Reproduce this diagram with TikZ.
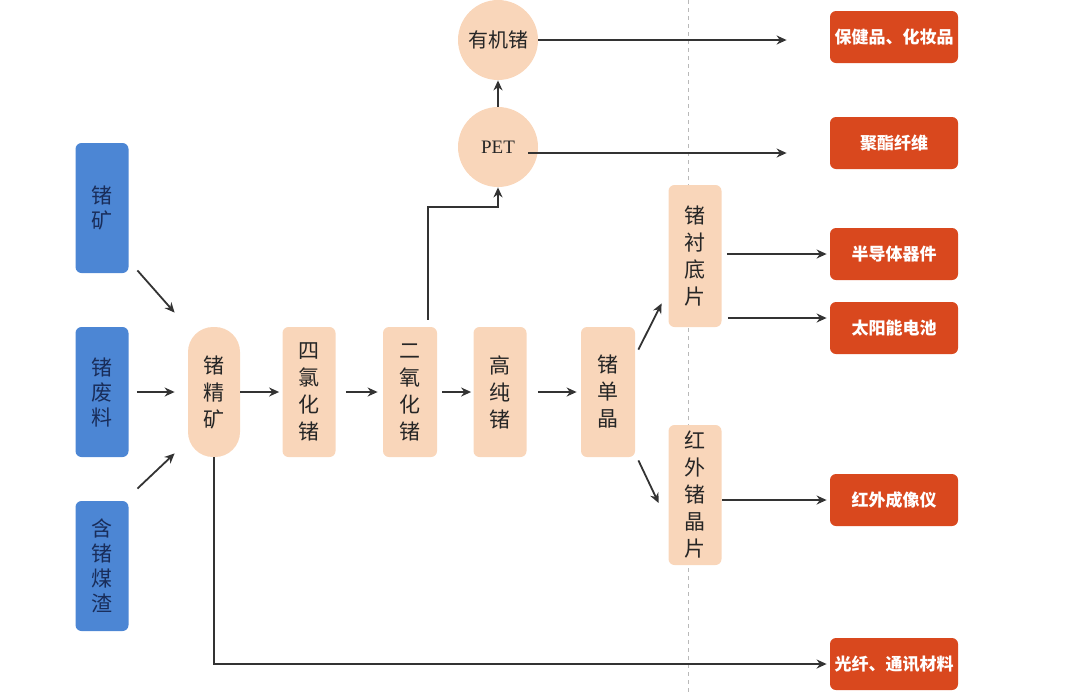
\documentclass[tikz,border=0pt]{standalone}
\usepackage{fontspec}
\usepackage{tikz}
\usetikzlibrary{arrows.meta,positioning}
\setmainfont{Noto Sans CJK SC}
\newfontfamily\petfont{Liberation Serif}
\definecolor{oreblue}{RGB}{76,134,212}
\definecolor{oretext}{RGB}{25,45,90}
\definecolor{peach}{RGB}{249,214,186}
\definecolor{userred}{RGB}{217,72,30}
\definecolor{guide}{RGB}{185,185,185}

\tikzset{
  src/.style={fill=oreblue, rounded corners=3pt, minimum width=26.5pt, minimum height=65pt,
    inner sep=0pt, align=center, text=oretext, font=\fontsize{10.5}{12.5}\selectfont},
  proc/.style={fill=peach, rounded corners=3pt, minimum width=26.5pt, minimum height=65pt,
    inner sep=0pt, align=center, text=black!85, font=\fontsize{10.5}{13.5}\selectfont},
  ball/.style={circle, fill=peach, minimum size=40pt, inner sep=0pt, text=black!85,
    font=\fontsize{10}{12}\selectfont},
  usage/.style={fill=userred, rounded corners=3pt, minimum width=64pt, minimum height=26pt,
    inner sep=0pt, text=white, font=\fontsize{8.5}{10}\selectfont\bfseries},
  arr/.style={-{Stealth[length=5pt,width=4.5pt]}, line width=0.9pt, black!80}
}

\begin{document}
\begin{tikzpicture}[x=0.5pt, y=-0.5pt]
\useasboundingbox (0,0) rectangle (1080,692);

% Guide line
\draw[guide, line width=0.5pt, dash pattern=on 2pt off 2pt] (688,0) -- (688,692);

% Raw material
\node[src] (kuang)   at (102,208) {锗\\矿};
\node[src] (feiliao) at (102,392) {锗\\废\\料};
\node[src] (meizha)  at (102,566) {含\\锗\\煤\\渣};

% Processing chain
\node[proc, rounded corners=12.5pt, minimum width=26pt] (jing) at (214,392) {锗\\精\\矿};
\node[proc] (sicl)    at (309,392) {四\\氯\\化\\锗};
\node[proc, minimum width=27pt] (ergy) at (410,392) {二\\氧\\化\\锗};
\node[proc] (gaochun) at (500,392) {高\\纯\\锗};
\node[proc, minimum width=27pt] (danjing) at (608,392) {锗\\单\\晶};
\node[proc, minimum height=71pt] (chendi)  at (695,256) {锗\\衬\\底\\片};
\node[proc, minimum height=70pt] (hongwai) at (695,495) {红\\外\\锗\\晶\\片};

\node[ball] (organic) at (498,40) {有机锗};
\node[ball, font=\petfont\fontsize{9.5}{11}\selectfont] (pet) at (498,147) {PET};

% Applications
\node[usage] (baojian)    at (894,37)  {保健品、化妆品};
\node[usage] (juzhi)      at (894,143) {聚酯纤维};
\node[usage] (bandao)     at (894,254) {半导体器件};
\node[usage] (taiyang)    at (894,328) {太阳能电池};
\node[usage] (chengxiang) at (894,500) {红外成像仪};
\node[usage] (guangxian)  at (894,664) {光纤、通讯材料};

% Feed arrows
\draw[arr] ([shift={(8.5,-3)}]kuang.south east) -- ([shift={(-13,-14)}]jing.north west);
\draw[arr, shorten <=4pt, shorten >=6.5pt] (feiliao) -- (jing);
\draw[arr] ([shift={(8.5,-12)}]meizha.north east) -- ([shift={(-13,-4)}]jing.south west);

% Main chain
\draw[arr, shorten >=1.5pt] (jing) -- (sicl);
\draw[arr, shorten <=5pt, shorten >=2.5pt] (sicl) -- (ergy);
\draw[arr, shorten <=2.5pt, shorten >=1pt] (ergy) -- (gaochun);
\draw[arr, shorten <=5.5pt, shorten >=2pt] (gaochun) -- (danjing);

% Organic branch
\coordinate (ergyTop) at ([shift={(18,-7)}]ergy.north);
\coordinate (petBend) at (428,207);
\draw[arr, line width=1.3pt] (ergyTop) -- (petBend) -| (pet.south);
\draw[arr] (pet) -- (organic);
\draw[arr, shorten >=21.5pt] (organic) -- (organic -| baojian.west);
\coordinate (petOut) at ([shift={(-10,6)}]pet.east);
\draw[arr, shorten >=21.5pt] (petOut) -- (petOut -| juzhi.west);

% Wafer branch
\draw[arr] ([shift={(3,23)}]danjing.north east) -- ([shift={(-6.5,-24)}]chendi.south west);
\draw[arr] ([shift={(3,3)}]danjing.south east) -- ([shift={(-9.5,8)}]hongwai.west);
\draw[arr, shorten <=2.5pt, shorten >=1.5pt] (chendi.east |- bandao) -- (bandao.west);
\coordinate (tyIn) at ([yshift=5pt]taiyang.west);
\draw[arr, shorten <=3pt, shorten >=1.5pt] (tyIn -| chendi.east) -- (tyIn);
\draw[arr, shorten >=1.5pt] (hongwai.east |- chengxiang) -- (chengxiang.west);

% Fibre line
\draw[arr, shorten >=1.5pt] (jing.south) |- (guangxian.west);
\end{tikzpicture}
\end{document}
